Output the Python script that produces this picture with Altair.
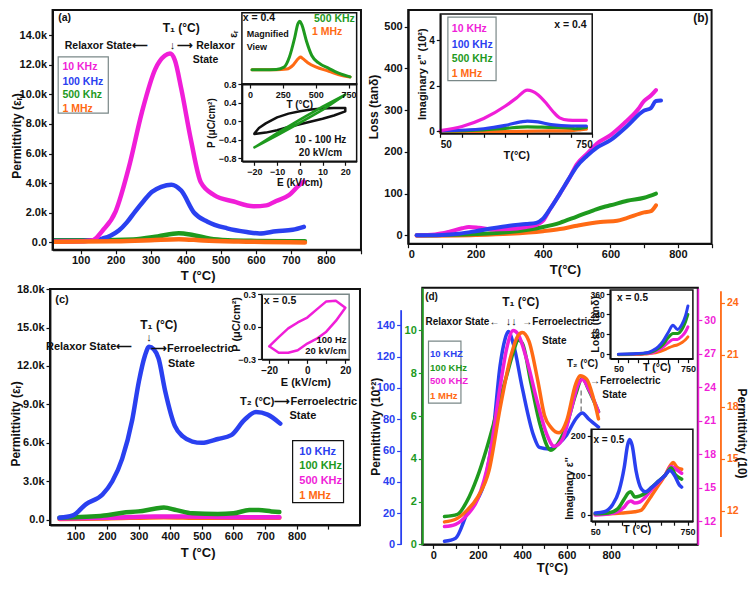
import altair as alt
import pandas as pd

W, H = 740, 568
FONT = "Liberation Sans"
PINK, BLUE, GREEN, ORANGE = "#F01ED8", "#2A40F0", "#1E9A1E", "#FF6A14"
BLACK, GREY = "#111111", "#7A8888"

# ---------------- data ----------------
# (a) permittivity, x = 0.4
a_pink_T = [25, 80, 135, 163, 200, 238, 275, 313, 340, 355, 369, 387, 415, 443, 481, 537, 593, 630, 658, 695, 723, 737]
a_pink_v = [50, 60, 150, 800, 2100, 5100, 8800, 11700, 12600, 12750, 12300, 10400, 6900, 4060, 3200, 2760, 2440, 2500, 2800, 3200, 3850, 4100]
a_blue_T = [25, 100, 140, 162, 185, 209, 232, 256, 280, 303, 330, 359, 387, 424, 462, 518, 574, 611, 658, 705, 737]
a_blue_v = [100, 100, 130, 260, 450, 800, 1350, 2100, 2800, 3400, 3750, 3900, 3500, 2000, 1400, 950, 700, 600, 750, 850, 1050]
a_green_T = [25, 150, 250, 320, 380, 420, 470, 520, 600, 740]
a_green_v = [150, 150, 200, 400, 620, 500, 250, 150, 100, 70]
a_orange_T = [25, 200, 300, 380, 450, 550, 740]
a_orange_v = [50, 80, 150, 220, 130, 60, 0]
# (a) inset: magnified view (arbitrary units)
a1_green_T = [15, 100, 200, 260, 300, 340, 365, 380, 395, 430, 470, 520, 600, 680, 762]
a1_green_v = [2.0, 2.0, 2.05, 2.4, 3.8, 6.5, 8.5, 8.8, 8.3, 6.0, 4.0, 3.0, 2.2, 1.5, 1.0]
a1_orange_T = [15, 100, 200, 280, 330, 370, 385, 400, 440, 500, 600, 700, 762]
a1_orange_v = [2.0, 2.0, 2.0, 2.1, 2.7, 3.6, 3.8, 3.6, 3.0, 2.4, 1.8, 1.2, 1.0]
# (a) inset: P-E loops
a2_black_E = [-20, -18, -15, -10, -5, 0, 5, 10, 15, 20, 20, 15, 10, 5, 0, -5, -10, -15, -20, -20]
a2_black_P = [-0.27, -0.15, -0.05, 0.08, 0.16, 0.21, 0.25, 0.27, 0.28, 0.28, 0.21, 0.12, 0.05, -0.01, -0.07, -0.13, -0.2, -0.25, -0.28, -0.27]
a2_green_E = [-20, -10, 0, 10, 20, 10, 0, -10, -20]
a2_green_P = [-0.57, -0.26, 0.03, 0.31, 0.57, 0.24, -0.04, -0.31, -0.57]
# (b) loss, x = 0.4
b_pink_T = [25, 80, 120, 160, 180, 210, 250, 300, 350, 380, 400, 420, 450, 480, 500, 530, 560, 600, 640, 680, 700, 720, 735]
b_pink_v = [0, 2, 8, 17, 20, 18, 14, 15, 20, 25, 35, 62, 100, 140, 170, 195, 220, 240, 268, 300, 322, 335, 348]
b_blue_T = [25, 100, 150, 200, 250, 300, 350, 380, 400, 420, 450, 480, 500, 530, 560, 600, 650, 700, 720, 735, 750]
b_blue_v = [0, 1, 4, 10, 17, 23, 27, 30, 40, 62, 100, 140, 165, 190, 210, 228, 262, 299, 305, 322, 323]
b_green_T = [25, 200, 300, 400, 450, 500, 550, 580, 600, 650, 700, 735]
b_green_v = [0, 3, 8, 20, 30, 45, 60, 68, 72, 83, 90, 100]
b_orange_T = [25, 200, 300, 400, 450, 500, 570, 620, 650, 700, 720, 735]
b_orange_v = [-1, 1, 4, 10, 15, 23, 32, 35, 42, 55, 58, 72]
# (b) inset: imaginary permittivity (10^2)
b1_pink_T = [50, 150, 250, 350, 400, 451, 500, 540, 570, 600, 640, 680, 723]
b1_pink_v = [0.02, 0.2, 0.55, 1.1, 1.45, 1.8, 1.6, 1.2, 0.85, 0.58, 0.48, 0.47, 0.47]
b1_blue_T = [50, 250, 350, 420, 451, 500, 560, 655, 723]
b1_blue_v = [0, 0.1, 0.25, 0.4, 0.44, 0.4, 0.28, 0.22, 0.22]
b1_green_T = [50, 250, 350, 451, 550, 650, 670, 723]
b1_green_v = [0, 0.05, 0.12, 0.18, 0.16, 0.14, 0.1, 0.16]
b1_orange_T = [50, 300, 500, 650, 700, 723]
b1_orange_v = [-0.05, -0.03, 0.0, 0.02, 0.06, 0.08]
# (c) permittivity, x = 0.5
c_blue_T = [50, 92, 133, 186, 217, 248, 280, 301, 320, 333, 348, 363, 384, 415, 440, 470, 500, 551, 593, 635, 671, 708, 748]
c_blue_v = [150, 330, 1200, 1970, 3000, 4750, 7800, 10800, 12800, 13500, 13300, 12600, 10050, 7300, 6500, 6100, 6000, 6300, 6600, 7800, 8400, 8200, 7500]
c_green_T = [50, 100, 150, 200, 250, 300, 350, 380, 420, 470, 550, 600, 650, 680, 720, 745]
c_green_v = [150, 200, 250, 350, 550, 650, 850, 950, 750, 500, 450, 500, 750, 750, 650, 600]
c_pink_T = [50, 200, 350, 450, 600, 745]
c_pink_v = [100, 150, 250, 250, 200, 200]
c_orange_T = [50, 200, 380, 500, 745]
c_orange_v = [50, 100, 200, 150, 150]
# (c) inset: P-E loop
c1_E = [-20, -15, -10, -5, 0, 5, 10, 15, 20, 15, 10, 5, 0, -5, -10, -15, -20]
c1_P = [-0.18, -0.095, -0.015, 0.04, 0.085, 0.16, 0.234, 0.24, 0.175, 0.054, -0.045, -0.11, -0.155, -0.216, -0.24, -0.24, -0.18]
# (d) permittivity on four axes, x = 0.5
d_blue_T = [50, 100, 152, 226, 270, 300, 322, 337, 360, 400, 450, 477, 520, 560, 600, 640, 670, 700, 743]
d_blue_v = [2, 4, 20, 38, 73, 114, 131, 136, 128, 100, 70, 62, 61, 64, 70, 80, 84, 80, 75]
d_green_T = [50, 108, 150, 196, 240, 270, 300, 330, 360, 381, 400, 440, 480, 529, 560, 600, 640, 670, 700, 743]
d_green_v = [1.3, 1.4, 2.0, 3.1, 4.5, 5.6, 6.8, 7.9, 9.0, 9.55, 9.4, 7.5, 5.6, 4.4, 4.7, 5.6, 7.0, 7.75, 7.2, 6.2]
d_pink_T = [50, 100, 150, 200, 250, 300, 330, 359, 380, 420, 470, 510, 544, 580, 620, 650, 670, 700, 743]
d_pink_v = [11.5, 11.7, 12.5, 14.0, 17.5, 24.0, 27.5, 29.1, 28.8, 26.5, 22.5, 19.8, 18.7, 19.3, 22.0, 24.2, 24.7, 23.8, 21.8]
d_orange_T = [50, 100, 150, 200, 250, 300, 350, 380, 400, 430, 470, 500, 530, 566, 600, 640, 660, 690, 720, 743]
d_orange_v = [11.35, 11.5, 12.0, 12.8, 14.3, 17.9, 21.0, 22.1, 22.3, 21.8, 19.5, 17.5, 16.8, 16.5, 17.2, 19.3, 19.8, 19.6, 18.5, 17.3]
# (d) inset: loss
d1_T = [50, 200, 300, 350, 400, 450, 500, 550, 600, 645, 690, 725, 750]
d1_blue = [2, 4, 8, 12, 25, 45, 80, 130, 175, 150, 180, 230, 290]
d1_green = [0, 3, 6, 10, 18, 35, 60, 100, 125, 125, 150, 195, 240]
d1_pink = [0, 2, 4, 7, 12, 25, 45, 70, 90, 90, 110, 135, 165]
d1_orange = [-2, 0, 2, 4, 8, 15, 25, 38, 50, 58, 72, 88, 105]
# (d) inset: imaginary permittivity
d2_blue_T = [50, 120, 180, 230, 270, 295, 310, 330, 360, 400, 430, 480, 530, 580, 616, 650, 688, 705]
d2_blue_v = [5, 8, 25, 60, 120, 175, 190, 175, 110, 65, 58, 70, 85, 100, 112, 100, 75, 70]
d2_gp_T = [50, 150, 220, 270, 300, 320, 350, 390, 430, 480, 530, 580, 625, 660, 705]
d2_green_v = [3, 5, 15, 40, 55, 58, 45, 48, 55, 70, 85, 100, 118, 100, 90]
d2_pink_v = [0, 2, 8, 20, 32, 35, 30, 33, 45, 65, 82, 100, 122, 115, 105]
d2_orange_T = [50, 150, 250, 350, 400, 430, 480, 530, 580, 620, 640, 670, 705]
d2_orange_v = [2, 3, 5, 8, 12, 25, 50, 75, 100, 125, 132, 120, 115]

# ---------------- layout helpers ----------------
def PX(rx):
    return (rx - 4) * W / 752


def PY(ry):
    return (ry - 3) * H / 588


# x-domain, (left,right) ref px, y-domain, (bottom, top) ref px
BOX = {
    "a":  ([20, 900], (49.3, 362.7), [-500, 15700], (253.3, 5)),
    "a1": ([-62, 812], (241.7, 358.3), [0, 10], (81.7, 8)),
    "a2": ([-25.5, 25], (241.7, 358.3), [-0.87, 0.8], (161.7, 81.7)),
    "b":  ([0, 900], (410.7, 719), [-20, 540], (247, 5)),
    "b1": ([50, 750], (443.3, 597.7), [-0.1, 5.15], (132.7, 9.3)),
    "c":  ([20, 1000], (46.7, 361.7), [-420, 18000], (538.3, 294)),
    "c1": ([-24, 22], (261.7, 350.7), [-0.3, 0.3], (366.7, 299.3)),
    "dB": ([-50, 1190], (425, 705), [0, 150], (558.3, 315.3)),
    "dG": ([-50, 1190], (425, 705), [0, 12], (558.3, 292.5)),
    "dP": ([-50, 1190], (425, 705), [9.9, 32.9], (558.3, 293)),
    "dO": ([-50, 1190], (425, 705), [10.5, 24.7], (550.2, 295.8)),
    "d1": ([-32, 800], (616, 700), [-25, 385], (366, 295)),
    "d2": ([20, 790], (596.7, 700), [-16, 216], (534.3, 439)),
}


def enc_xy(key, xf, yf, xaxis=None, yaxis=None):
    xd, xr, yd, yr = BOX[key]
    x = alt.X(xf, type="quantitative",
              scale=alt.Scale(domain=xd, range=[PX(xr[0]), PX(xr[1])], nice=False, zero=False),
              axis=xaxis)
    y = alt.Y(yf, type="quantitative",
              scale=alt.Scale(domain=yd, range=[PY(yr[0]), PY(yr[1])], nice=False, zero=False),
              axis=yaxis)
    return x, y


def axis(orient, pos, size=11, color=BLACK, **kw):
    off = {"left": -PX(pos), "right": PX(pos) - W, "bottom": PY(pos) - H, "top": -PY(pos)}[orient]
    opts = dict(orient=orient, offset=off, zindex=1, grid=False, tickSize=4, tickWidth=1.2,
                domainWidth=1.8, labelFont=FONT, labelFontWeight="bold", labelFontSize=size,
                labelColor=color, titleFont=FONT, titleFontWeight="bold", titleFontSize=size + 1,
                titleColor=BLACK, domainColor=color, tickColor=color, labelPadding=2, title=None)
    opts.update(kw)
    return alt.Axis(**opts)


def ytitle_at(pos, rx, ry):
    # place a y-axis title centred at reference pixel (rx, ry)
    return dict(titleX=PX(rx) - PX(pos), titleY=PY(ry), titleBaseline="middle")


def xtitle_at(pos, rx, ry):
    return dict(titleX=PX(rx), titleY=PY(ry) - PY(pos), titleBaseline="middle")


def box(key, x0, x1, y0, y1, stroke=BLACK, fill=None, sw=1.5, xaxis=None, yaxis=None):
    df = pd.DataFrame({"x0": [x0], "x1": [x1], "y0": [y0], "y1": [y1]})
    x, y = enc_xy(key, "x0", "y0", xaxis, yaxis)
    mk = dict(stroke=stroke, strokeWidth=sw)
    if fill:
        mk["fill"] = fill
    else:
        mk["fillOpacity"] = 0
    return alt.Chart(df).mark_rect(**mk).encode(x=x, x2="x1", y=y, y2="y1")


def frame(key, **kw):
    xd, _, yd, _ = BOX[key]
    return box(key, xd[0], xd[1], yd[0], yd[1], **kw)


def curves(key, series, sw=4, interp="monotone", xaxis=None, yaxis=None, order=False):
    rows = []
    for sid, (xs, ys, col) in enumerate(series):
        for i, (a, b) in enumerate(zip(xs, ys)):
            rows.append({"x": a, "y": b, "c": col, "s": f"{key}{sid}", "i": i})
    df = pd.DataFrame(rows)
    x, y = enc_xy(key, "x", "y", xaxis, yaxis)
    e = dict(x=x, y=y, color=alt.Color("c:N", scale=None), detail="s:N")
    if order:
        e["order"] = alt.Order("i:Q")
    return alt.Chart(df).mark_line(strokeWidth=sw, interpolate=interp, strokeCap="round",
                                   strokeJoin="round").encode(**e)


def texts(key, rows, align="left", size=10.5, angle=0, weight="bold"):
    df = pd.DataFrame(rows, columns=["t", "x", "y", "c"])
    x, y = enc_xy(key, "x", "y")
    return alt.Chart(df).mark_text(align=align, baseline="middle", font=FONT, fontSize=size,
                                   fontWeight=weight, angle=angle).encode(
        x=x, y=y, text="t:N", color=alt.Color("c:N", scale=None))


KLAB = "datum.value == 0 ? '0.0' : format(datum.value / 1000, '.1f') + 'k'"
LA, RA = "⟵", "⟶"
layers = []

# ---------------- panel (a) ----------------
layers.append(curves("a", [(a_green_T, a_green_v, GREEN), (a_blue_T, a_blue_v, BLUE),
                           (a_pink_T, a_pink_v, PINK), (a_orange_T, a_orange_v, ORANGE)], sw=4.5))
layers.append(frame("a", sw=2,
    xaxis=axis("bottom", 253.3, values=list(range(100, 1000, 100)), labelPadding=1,
               labelExpr="datum.value <= 800 ? datum.label : ''", title="T (°C)", titleFontSize=13,
               **xtitle_at(253.3, 196.7, 279.5)),
    yaxis=axis("left", 49.3, values=list(range(0, 16000, 2000)), labelExpr=KLAB,
               title="Permittivity (εᵣ)", titleFontSize=12, **ytitle_at(49.3, 13, 135))))
layers.append(box("a", 36, 179, 8730, 12530, stroke=GREY, sw=1.2))
layers.append(texts("a", [("(a)", 36, 15180, BLACK), (RA + " Relaxor", 376, 13250, BLACK),
                          ("State", 420, 12310, BLACK),
                          ("10 KHz", 48, 11840, PINK), ("100 KHz", 48, 10840, BLUE),
                          ("500 Khz", 48, 9930, GREEN), ("1 MHz", 48, 9020, ORANGE)]))
layers.append(texts("a", [("Relaxor State" + LA, 292, 13250, BLACK)], align="right"))
layers.append(texts("a", [("T₁ (°C)", 387, 14490, BLACK)], align="center", size=12))
layers.append(texts("a", [("↓", 362, 13270, BLACK)], align="center", size=11))
# inset a1
layers.append(frame("a1", fill="white",
    xaxis=axis("bottom", 81.7, size=9, values=[0, 250, 500, 750], title="T (°C)", titlePadding=0)))
layers.append(curves("a1", [(a1_orange_T, a1_orange_v, ORANGE), (a1_green_T, a1_green_v, GREEN)], sw=3))
layers.append(texts("a1", [("x = 0.4", -56, 9.28, BLACK), ("500 KHz", 487, 9.15, GREEN),
                           ("1 MHz", 472, 7.29, ORANGE)], size=10.5))
layers.append(texts("a1", [("Magnified", -25, 7.0, BLACK), ("View", -25, 5.2, BLACK)], size=9))
layers.append(texts("a1", [("εᵣ", -120, 7.0, BLACK)], align="center", size=10, angle=270))
# inset a2
layers.append(frame("a2", fill="white",
    xaxis=axis("bottom", 161.7, size=9, values=[-20, -10, 0, 10, 20], title="E (kV/cm)", titlePadding=1),
    yaxis=axis("left", 241.7, size=9, values=[-0.8, -0.4, 0, 0.4, 0.8], format=".1f",
               title="P (μC/cm²)", titlePadding=2)))
layers.append(curves("a2", [(a2_black_E, a2_black_P, BLACK), (a2_green_E, a2_green_P, GREEN)],
                     sw=2.5, interp="linear", order=True))
layers.append(texts("a2", [("10 - 100 Hz", 9.1, -0.42, BLACK), ("20 kV/cm", 9.1, -0.70, BLACK)],
                    align="center", size=10))

# ---------------- panel (b) ----------------
layers.append(curves("b", [(b_orange_T, b_orange_v, ORANGE), (b_green_T, b_green_v, GREEN),
                           (b_pink_T, b_pink_v, PINK), (b_blue_T, b_blue_v, BLUE)], sw=4))
layers.append(frame("b", sw=2,
    xaxis=axis("bottom", 247, values=list(range(0, 1000, 100)), labelPadding=1,
               labelExpr="datum.value % 200 == 0 && datum.value <= 800 ? datum.label : ''",
               title="T(°C)", titleFontSize=13, **xtitle_at(247, 570, 274)),
    yaxis=axis("left", 410.7, values=list(range(0, 600, 100)), title="Loss (tanδ)", titleFontSize=12,
               **ytitle_at(410.7, 375, 105))))
layers.append(texts("b", [("(b)", 868, 521, BLACK)], align="center", size=12))
layers.append(frame("b1", fill="white",
    xaxis=axis("bottom", 132.7, size=10, values=list(range(50, 800, 100)),
               labelExpr="datum.value == 50 || datum.value == 750 ? datum.label : ''",
               labelFlush=True, title="T(°C)", titleFontSize=11, titlePadding=0),
    yaxis=axis("left", 443.3, size=10, values=[0, 2, 4], title="Imaginary ε'' (10²)",
               titleFontSize=11, titlePadding=1)))
layers.append(curves("b1", [(b1_orange_T, b1_orange_v, ORANGE), (b1_green_T, b1_green_v, GREEN),
                            (b1_blue_T, b1_blue_v, BLUE), (b1_pink_T, b1_pink_v, PINK)], sw=3.2))
layers.append(box("b1", 85, 307, 2.22, 5.02, stroke=GREY, sw=1.2))
layers.append(texts("b1", [("10 KHz", 103, 4.48, PINK), ("100 KHz", 103, 3.81, BLUE),
                           ("500 KHz", 103, 3.18, GREEN), ("1 MHz", 103, 2.49, ORANGE)]))
layers.append(texts("b1", [("x = 0.4", 724, 4.69, BLACK)], align="right"))

# ---------------- panel (c) ----------------
layers.append(curves("c", [(c_orange_T, c_orange_v, ORANGE), (c_pink_T, c_pink_v, PINK),
                           (c_green_T, c_green_v, GREEN), (c_blue_T, c_blue_v, BLUE)], sw=4.5))
layers.append(frame("c", sw=2,
    xaxis=axis("bottom", 538.3, values=list(range(100, 1000, 100)), labelPadding=1,
               labelExpr="datum.value <= 800 ? datum.label : ''", title="T (°C)", titleFontSize=13,
               **xtitle_at(538.3, 196.7, 567)),
    yaxis=axis("left", 46.7, values=list(range(0, 19000, 3000)), labelExpr=KLAB,
               title="Permittivity (εᵣ)", titleFontSize=12, **ytitle_at(46.7, 12, 433))))
layers.append(box("c", 787, 948, 1335, 6180, stroke=BLACK, sw=1.2))
layers.append(texts("c", [("(c)", 36.5, 17168, BLACK), (RA + "Ferroelectric", 339, 13320, BLACK),
                          ("State", 393, 12190, BLACK), ("T₂ (°C)" + RA + "Ferroelectric", 621, 9200, BLACK),
                          ("State", 777, 8120, BLACK),
                          ("10 KHz", 808, 5310, BLUE), ("100 KHz", 808, 4180, GREEN),
                          ("500 KHz", 808, 3050, PINK), ("1 MHz", 808, 1840, ORANGE)], size=11))
layers.append(texts("c", [("Relaxor State" + LA, 280, 13470, BLACK)], align="right", size=11))
layers.append(texts("c", [("T₁ (°C)", 364, 15230, BLACK)], align="center", size=12))
layers.append(texts("c", [("↓", 333, 14150, BLACK)], align="center", size=11))
layers.append(frame("c1", fill="white", stroke=GREY,
    xaxis=axis("bottom", 366.7, size=10, values=[-20, -10, 0, 10, 20],
               labelExpr="datum.value % 20 == 0 ? datum.label : ''", title="E (kV/cm)",
               titleFontSize=11, titlePadding=1),
    yaxis=axis("left", 261.7, size=9, values=[-0.3, 0, 0.3], format=".1f", title="P (μC/cm²)",
               titleFontSize=11, **ytitle_at(261.7, 236, 330))))
layers.append(curves("c1", [(c1_E, c1_P, PINK)], sw=2.5, interp="linear", order=True))
layers.append(texts("c1", [("x = 0.5", -22.8, 0.234, BLACK)]))
layers.append(texts("c1", [("100 Hz", 20.6, -0.122, BLACK), ("20 kV/cm", 20.6, -0.225, BLACK)],
                    align="right", size=9.5))

# ---------------- panel (d) ----------------
layers.append(curves("dB", [(d_blue_T, d_blue_v, BLUE)], sw=3.5,
    yaxis=axis("left", 403, color=BLUE, values=list(range(0, 160, 20)),
               title="Permittivity (10⁺²)", titleFontSize=12, **ytitle_at(403, 377, 436))))
layers.append(curves("dG", [(d_green_T, d_green_v, GREEN)], sw=3.5,
    yaxis=axis("left", 425, color=GREEN, values=list(range(0, 12, 2)))))
layers.append(curves("dP", [(d_pink_T, d_pink_v, PINK)], sw=3.5,
    yaxis=axis("right", 705, color=PINK, size=10.5, values=list(range(12, 33, 3)))))
layers.append(curves("dO", [(d_orange_T, d_orange_v, ORANGE)], sw=3.5,
    yaxis=axis("right", 728, color=ORANGE, size=10.5, values=[12, 15, 18, 21, 24],
               title="Permittivity (10)", titleFontSize=12, **ytitle_at(728, 749, 443))))
layers.append(frame("dG", sw=2, xaxis=axis("bottom", 558.3, values=list(range(0, 1200, 100)),
               labelPadding=1,
               labelExpr="datum.value % 200 == 0 && datum.value <= 800 ? datum.label : ''",
               title="T(°C)", titleFontSize=13, **xtitle_at(558.3, 556.7, 582.5))))
rule_df = pd.DataFrame({"x": [665], "y": [85], "y2": [100]})
rx_, ry_ = enc_xy("dB", "x", "y")
layers.append(alt.Chart(rule_df).mark_rule(color="#888888", strokeDash=[5, 3], strokeWidth=1.5)
              .encode(x=rx_, y=ry_, y2="y2"))
layers.append(box("dG", -22, 124, 6.6, 9.5, stroke=GREY, sw=1.2))
layers.append(texts("dG", [("(d)", -37, 11.55, BLACK), ("→Ferroelectric", 400, 10.38, BLACK),
                           ("State", 489, 9.52, BLACK), ("T₂ (°C)", 601, 8.44, BLACK),
                           ("→Ferroelectric", 705, 7.66, BLACK), ("State", 760, 6.98, BLACK)],
                    size=10))
layers.append(texts("dG", [("10 KHZ", -15, 8.9, BLUE), ("100 KHz", -15, 8.26, GREEN),
                           ("500 KHZ", -15, 7.62, PINK), ("1 MHz", -15, 6.94, ORANGE)], size=9.5))
layers.append(texts("dG", [("Relaxor State←", 297, 10.38, BLACK)], align="right", size=10))
layers.append(texts("dG", [("T₁ (°C)", 393, 11.33, BLACK)], align="center", size=12))
layers.append(texts("dG", [("↓↓", 350, 10.38, BLACK)], align="center", size=11))
# inset d1
layers.append(frame("d1", fill="white",
    xaxis=axis("bottom", 366, size=9, values=list(range(50, 800, 100)),
               labelExpr="datum.value == 50 || datum.value == 750 ? datum.label : ''",
               title="T (°C)", titleFontSize=10.5, **xtitle_at(366, 663, 375)),
    yaxis=axis("left", 616, size=8.5, values=[0, 120, 240, 360], title="Loss (tanδ)",
               titleFontSize=10.5, **ytitle_at(616, 601, 330))))
layers.append(curves("d1", [(d1_T, d1_orange, ORANGE), (d1_T, d1_pink, PINK),
                            (d1_T, d1_green, GREEN), (d1_T, d1_blue, BLUE)], sw=3))
layers.append(texts("d1", [("x = 0.5", 37, 339, BLACK)], size=10))
# inset d2
layers.append(frame("d2", fill="white",
    xaxis=axis("bottom", 534.3, size=9, values=list(range(50, 800, 100)),
               labelExpr="datum.value == 50 || datum.value == 750 ? datum.label : ''",
               title="T (°C)", titleFontSize=10.5, **xtitle_at(534.3, 643, 543)),
    yaxis=axis("left", 596.7, size=9, values=[0, 100, 200], title="Imaginary ε''",
               titleFontSize=10.5, **ytitle_at(596.7, 575, 500))))
layers.append(curves("d2", [(d2_orange_T, d2_orange_v, ORANGE), (d2_gp_T, d2_pink_v, PINK),
                            (d2_gp_T, d2_green_v, GREEN), (d2_blue_T, d2_blue_v, BLUE)], sw=3.5))
layers.append(texts("d2", [("x = 0.5", 37, 189.5, BLACK)], size=10))

chart = (alt.layer(*layers)
         .resolve_scale(x="independent", y="independent")
         .resolve_axis(x="independent", y="independent")
         .properties(width=W, height=H, padding=0, autosize=alt.AutoSizeParams(type="none"))
         .configure_view(stroke=None))

chart.save("out.html", embed_options={"renderer": "svg", "actions": False})
